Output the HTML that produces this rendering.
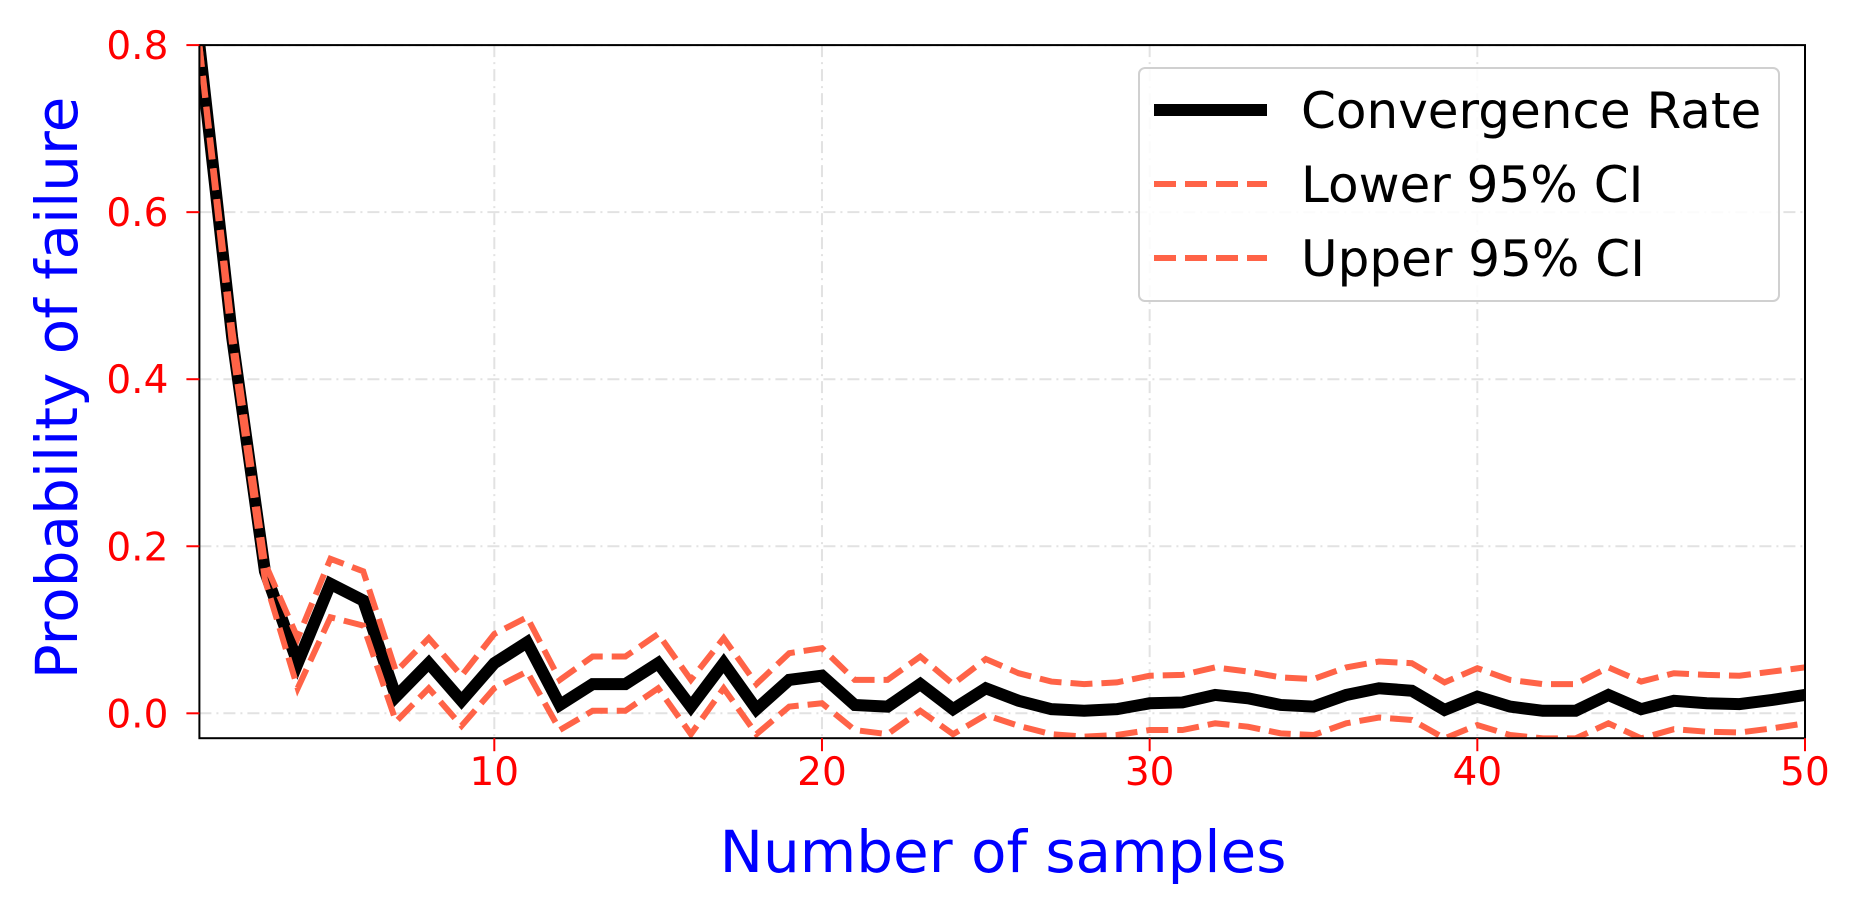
<!DOCTYPE html>
<html><head><meta charset="utf-8"><style>
body{margin:0;background:#fff;}
svg{display:block;font-family:"DejaVu Sans","Liberation Sans",sans-serif;}
</style></head><body>
<svg id="chart" width="1860" height="915" viewBox="0 0 1860 915">
<defs><clipPath id="pc"><rect x="199.4" y="45.1" width="1605.6" height="693.1"/></clipPath></defs>
<g id="grid"></g>
<g id="series" clip-path="url(#pc)"></g>
<rect x="199.4" y="45.1" width="1605.6" height="693.1" fill="none" stroke="#000" stroke-width="2"/>
<g id="ticks"></g>
<text x="1003" y="872" font-size="58" fill="#0000ff" text-anchor="middle">Number of samples</text>
<text transform="translate(77,388) rotate(-90)" font-size="58" fill="#0000ff" text-anchor="middle">Probability of failure</text>
<g>
<rect x="1139" y="68" width="640" height="233" rx="6" fill="#fff" fill-opacity="0.85" stroke="#d0d0d0" stroke-width="2"/>
<line x1="1154" y1="110" x2="1267" y2="110" stroke="#000" stroke-width="12"/>
<text x="1301" y="128" font-size="50">Convergence Rate</text>
<line x1="1154" y1="184" x2="1267" y2="184" stroke="#ff6347" stroke-width="6" stroke-dasharray="22,9"/>
<text x="1301" y="202" font-size="50">Lower 95% CI</text>
<line x1="1154" y1="258" x2="1267" y2="258" stroke="#ff6347" stroke-width="6" stroke-dasharray="22,9"/>
<text x="1301" y="276" font-size="50">Upper 95% CI</text>
</g>
</svg>
<script>
const samples = Array.from({length:50},(_,i)=>i+1);
const meanRate = [0.8,0.45,0.17,0.06,0.155,0.135,0.02,0.06,0.015,0.06,0.085,0.01,0.035,0.035,0.06,0.008,0.06,0.005,0.04,0.045,0.01,0.008,0.035,0.005,0.03,0.015,0.005,0.003,0.005,0.012,0.013,0.022,0.018,0.01,0.008,0.022,0.03,0.027,0.004,0.02,0.008,0.003,0.003,0.022,0.005,0.015,0.012,0.011,0.016,0.022];
const lowerCI = [0.8,0.44,0.16,0.03,0.115,0.105,-0.01,0.03,-0.015,0.03,0.05,-0.02,0.003,0.003,0.03,-0.025,0.03,-0.025,0.008,0.012,-0.02,-0.025,0.003,-0.025,-0.002,-0.015,-0.025,-0.028,-0.026,-0.02,-0.02,-0.012,-0.016,-0.024,-0.026,-0.012,-0.005,-0.008,-0.03,-0.014,-0.026,-0.03,-0.03,-0.012,-0.03,-0.019,-0.022,-0.023,-0.018,-0.012];
const upperCI = [0.8,0.46,0.18,0.09,0.185,0.17,0.05,0.09,0.045,0.095,0.115,0.04,0.068,0.068,0.095,0.04,0.09,0.035,0.072,0.078,0.04,0.04,0.068,0.035,0.065,0.048,0.038,0.035,0.037,0.045,0.046,0.055,0.05,0.043,0.041,0.055,0.062,0.06,0.037,0.054,0.04,0.035,0.035,0.055,0.038,0.048,0.046,0.045,0.05,0.055];
const xTicks = [10,20,30,40,50];
const yTicks = [0.0,0.2,0.4,0.6,0.8];
const yTickLabels = ["0.0","0.2","0.4","0.6","0.8"];

const X0=199.4,X1=1805,Y0=738.2,Y1=45.1,xmin=1,xmax=50,ymin=-0.0298,ymax=0.8;
const sx=v=>X0+(v-xmin)/(xmax-xmin)*(X1-X0);
const sy=v=>Y0-(v-ymin)/(ymax-ymin)*(Y0-Y1);
const NS="http://www.w3.org/2000/svg";
function mk(tag,attrs,parent){const e=document.createElementNS(NS,tag);for(const k in attrs)e.setAttribute(k,attrs[k]);parent.appendChild(e);return e;}
const grid=document.getElementById('grid'),ticks=document.getElementById('ticks'),ser=document.getElementById('series');
xTicks.forEach(t=>{
  const g=mk('line',{x1:sx(t),x2:sx(t),y1:Y1,y2:Y0,stroke:'#e2e2e2','stroke-width':2,'stroke-dasharray':'12,5,2,5'},grid);
  
  
  const tk=mk('line',{x1:sx(t),x2:sx(t),y1:Y0,y2:Y0+13,stroke:'#ff0000','stroke-width':2},ticks);
  
  
  const tl=mk('text',{x:sx(t),y:Y0+47,'font-size':39,fill:'#ff0000','text-anchor':'middle'},ticks);
  tl.textContent=t;
  
  
});
yTicks.forEach((t,i)=>{
  const g=mk('line',{x1:X0,x2:X1,y1:sy(t),y2:sy(t),stroke:'#e2e2e2','stroke-width':2,'stroke-dasharray':'12,5,2,5'},grid);
  
  
  const tk=mk('line',{x1:X0-13,x2:X0,y1:sy(t),y2:sy(t),stroke:'#ff0000','stroke-width':2},ticks);
  
  
  const tl=mk('text',{x:X0-31,y:sy(t)+14,'font-size':39,fill:'#ff0000','text-anchor':'end'},ticks);
  tl.textContent=yTickLabels[i];
  
  
});
const pts=arr=>arr.map((v,i)=>sx(samples[i])+','+sy(v)).join(' ');
const m=mk('polyline',{points:pts(meanRate),fill:'none',stroke:'#000','stroke-width':12,'stroke-linejoin':'miter','stroke-miterlimit':3},ser);


const lo=mk('polyline',{points:pts(lowerCI),fill:'none',stroke:'#ff6347','stroke-width':6,'stroke-dasharray':'22,9'},ser);


const up=mk('polyline',{points:pts(upperCI),fill:'none',stroke:'#ff6347','stroke-width':6,'stroke-dasharray':'22,9'},ser);


</script>
</body></html>
